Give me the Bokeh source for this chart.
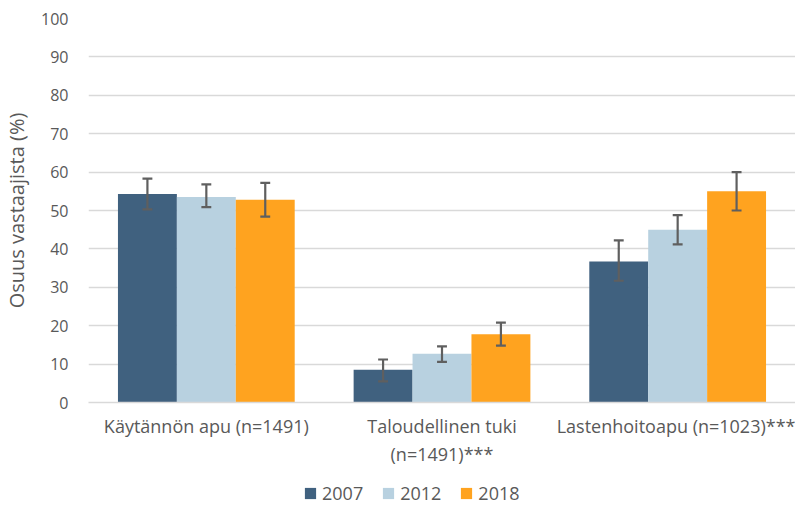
from bokeh.plotting import figure
from bokeh.models import ColumnDataSource, Legend, LegendItem, FactorRange, SingleIntervalTicker
from bokeh.layouts import column
from bokeh.transform import dodge
from bokeh.embed import file_html
from bokeh.resources import INLINE

categories = ["Käytännön apu (n=1491)", "Taloudellinen tuki\n(n=1491)***", "Lastenhoitoapu (n=1023)***"]
years = ["2007", "2012", "2018"]
v2007 = [54.3, 8.5, 36.7]
v2012 = [53.5, 12.7, 45.0]
v2018 = [52.8, 17.8, 55.0]
lo2007 = [50.3, 5.5, 31.7]
hi2007 = [58.3, 11.2, 42.2]
lo2012 = [50.9, 10.6, 41.2]
hi2012 = [56.8, 14.6, 48.8]
lo2018 = [48.4, 14.8, 50.0]
hi2018 = [57.2, 20.8, 60.0]
colors = ["#40617F", "#B8D1E0", "#FFA31F"]

FONT = "Open Sans"
GREY = "#595959"
ERR = "#5F5F5F"

p = figure(x_range=FactorRange(*categories), y_range=(0, 100), width=795, height=474,
           output_backend="svg", toolbar_location=None,
           min_border_left=78, min_border_right=0, min_border_top=18, min_border_bottom=72)
p.outline_line_color = None
p.background_fill_color = "white"

vals = [v2007, v2012, v2018]
los = [lo2007, lo2012, lo2018]
his = [hi2007, hi2012, hi2018]
offsets = [-0.25, 0.0, 0.25]
srcs = []
for v, lo, hi, c, off in zip(vals, los, his, colors, offsets):
    src = ColumnDataSource(dict(x=categories, top=v, lo=lo, hi=hi))
    srcs.append(src)
    p.vbar(x=dodge("x", off, range=p.x_range), top="top", width=0.25, source=src,
           fill_color=c, line_color=None)

cap = 0.021
for src, off in zip(srcs, offsets):
    p.segment(x0=dodge("x", off, range=p.x_range), x1=dodge("x", off, range=p.x_range),
              y0="lo", y1="hi", source=src, line_color=ERR, line_width=2.2)
    p.segment(x0=dodge("x", off - cap, range=p.x_range), x1=dodge("x", off + cap, range=p.x_range),
              y0="lo", y1="lo", source=src, line_color=ERR, line_width=2.2)
    p.segment(x0=dodge("x", off - cap, range=p.x_range), x1=dodge("x", off + cap, range=p.x_range),
              y0="hi", y1="hi", source=src, line_color=ERR, line_width=2.2)

p.yaxis.ticker = SingleIntervalTicker(interval=10)
p.yaxis.axis_line_color = None
p.yaxis.major_tick_line_color = None
p.yaxis.minor_tick_line_color = None
p.yaxis.major_label_text_font = FONT
p.yaxis.major_label_text_font_size = "16px"
p.yaxis.major_label_text_color = GREY
p.yaxis.major_label_standoff = 14
p.yaxis.axis_label = "Osuus vastaajista (%)"
p.yaxis.axis_label_text_font = FONT
p.yaxis.axis_label_text_font_style = "normal"
p.yaxis.axis_label_text_font_size = "20px"
p.yaxis.axis_label_text_color = GREY
p.yaxis.axis_label_standoff = 8

p.xaxis.axis_line_color = "#D9D9D9"
p.xaxis.axis_line_width = 1.5
p.xaxis.major_tick_line_color = None
p.xaxis.minor_tick_line_color = None
p.xaxis.major_label_text_font = FONT
p.xaxis.major_label_text_font_size = "18px"
p.xaxis.major_label_text_color = GREY
p.xaxis.major_label_standoff = 5

p.xgrid.grid_line_color = None
p.ygrid.grid_line_color = "#D9D9D9"
p.ygrid.grid_line_width = 1.5

# legend strip below the chart
lg = figure(width=795, height=31, output_backend="svg", toolbar_location=None,
            x_range=(0, 1), y_range=(0, 1), min_border=0)
lg.axis.visible = False
lg.grid.visible = False
lg.outline_line_color = None
items = []
for y, c in zip(years, colors):
    r = lg.vbar(x=[5], top=[5], width=0.1, fill_color=c, line_color=None)
    items.append(LegendItem(label=y, renderers=[r]))
legend = Legend(items=items, orientation="horizontal", location=(215, 0),
                label_text_font=FONT, label_text_font_size="18px", label_text_color=GREY,
                glyph_width=14, glyph_height=14, spacing=18, label_standoff=5,
                border_line_color=None, background_fill_alpha=0, padding=2, margin=0)
lg.add_layout(legend)

layout = column(p, lg, spacing=0)
open("out.html", "w").write(file_html(layout, INLINE))
